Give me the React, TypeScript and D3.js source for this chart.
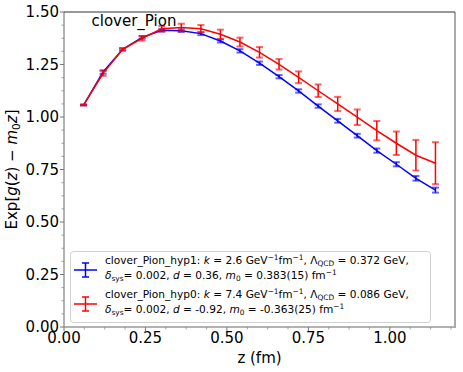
import React from "react";
import * as d3 from "d3";

const zValues = [0.06, 0.12, 0.18, 0.24, 0.30, 0.36, 0.42, 0.48, 0.54, 0.60, 0.66, 0.72, 0.78, 0.84, 0.90, 0.96, 1.02, 1.08, 1.14];
const hyp1Values = [1.057, 1.214, 1.322, 1.379, 1.413, 1.411, 1.397, 1.362, 1.315, 1.256, 1.192, 1.124, 1.052, 0.982, 0.911, 0.840, 0.775, 0.708, 0.652];
const hyp1Errors = [0.002, 0.008, 0.005, 0.006, 0.006, 0.006, 0.007, 0.007, 0.008, 0.008, 0.008, 0.008, 0.008, 0.009, 0.009, 0.010, 0.010, 0.011, 0.012];
const hyp0Values = [1.057, 1.208, 1.322, 1.375, 1.420, 1.426, 1.420, 1.394, 1.357, 1.308, 1.251, 1.189, 1.125, 1.062, 0.999, 0.935, 0.875, 0.818, 0.780];
const hyp0Errors = [0.002, 0.012, 0.006, 0.011, 0.013, 0.018, 0.018, 0.022, 0.021, 0.025, 0.025, 0.028, 0.030, 0.034, 0.037, 0.046, 0.056, 0.073, 0.100];
const xTicks = [0, 0.25, 0.5, 0.75, 1.0];
const yTicks = [0, 0.25, 0.5, 0.75, 1.0, 1.25, 1.5];

const W = 463, H = 372;
const M = { left: 64, right: 455, top: 12, bottom: 327 };
const FONT = "DejaVu Sans, sans-serif";

export default function App() {
  const x = d3.scaleLinear().domain([0, 1.2]).range([M.left, M.right]);
  const y = d3.scaleLinear().domain([0, 1.5]).range([M.bottom, M.top]);
  const line = d3.line<number>().x((_, i) => x(zValues[i])).y((v) => y(v));
  const minorX = d3.range(0, 1.2001, 0.0625).filter((v) => Math.abs((v / 0.25) - Math.round(v / 0.25)) > 1e-6);
  const minorY = d3.range(0, 1.5001, 0.0625).filter((v) => Math.abs((v / 0.25) - Math.round(v / 0.25)) > 1e-6);

  const series = [
    { vals: hyp1Values, errs: hyp1Errors, color: "#0000ff" },
    { vals: hyp0Values, errs: hyp0Errors, color: "#ff0000" },
  ];

  const sup = (t: string) => <tspan baselineShift="4px" fontSize="7.4px">{t}</tspan>;
  const sub = (t: string) => <tspan baselineShift="-2px" fontSize="7.4px">{t}</tspan>;
  const subBig = (t: string) => <tspan baselineShift="-3px" fontSize="10.5px">{t}</tspan>;
  const it = (t: string) => <tspan fontStyle="italic">{t}</tspan>;

  const legendHandle = (cy: number, color: string) => (
    <g>
      <line x1={74} x2={97} y1={cy} y2={cy} stroke={color} strokeWidth={1.5} />
      <line x1={85.5} x2={85.5} y1={cy - 7} y2={cy + 7} stroke={color} strokeWidth={1.5} />
      <line x1={82} x2={89} y1={cy - 7} y2={cy - 7} stroke={color} strokeWidth={1.5} />
      <line x1={82} x2={89} y1={cy + 7} y2={cy + 7} stroke={color} strokeWidth={1.5} />
    </g>
  );

  return (
    <svg width={W} height={H} style={{ position: "absolute", left: 0, top: 0, background: "#fff" }} fontFamily={FONT}>
      <rect x={0} y={0} width={W} height={H} fill="#fff" />
      {/* data */}
      {series.map((s, si) => (
        <g key={si}>
          <path d={line(s.vals) || ""} fill="none" stroke={s.color} strokeWidth={1.5} />
          {s.vals.map((v, i) => {
            const cx = x(zValues[i]);
            const y1 = y(v + s.errs[i]);
            const y2 = y(v - s.errs[i]);
            return (
              <g key={i}>
                <line x1={cx} x2={cx} y1={y1} y2={y2} stroke={s.color} strokeWidth={1.5} />
                <line x1={cx - 3.5} x2={cx + 3.5} y1={y1} y2={y1} stroke={s.color} strokeWidth={2} strokeOpacity={0.6} />
                <line x1={cx - 3.5} x2={cx + 3.5} y1={y2} y2={y2} stroke={s.color} strokeWidth={2} strokeOpacity={0.6} />
              </g>
            );
          })}
        </g>
      ))}
      {/* spines */}
      <line x1={M.left} x2={M.left} y1={M.top} y2={M.bottom} stroke="#999" strokeWidth={1.5} />
      <line x1={M.left} x2={M.right} y1={M.bottom} y2={M.bottom} stroke="#999" strokeWidth={1.5} />
      <line x1={M.right} x2={M.right} y1={M.top} y2={M.bottom + 1} stroke="#aaa" strokeWidth={2} />
      <line x1={M.left} x2={M.right} y1={M.top} y2={M.top} stroke="#333" strokeWidth={1.2} />
      {/* ticks */}
      {xTicks.map((t) => (
        <g key={"xt" + t}>
          <line x1={x(t)} x2={x(t)} y1={M.bottom} y2={M.bottom + 4} stroke="#777" strokeWidth={1} />
          <text x={x(t)} y={M.bottom + 16} fontSize={15} textAnchor="middle">{t.toFixed(2)}</text>
        </g>
      ))}
      {minorX.map((t) => (
        <line key={"xm" + t} x1={x(t)} x2={x(t)} y1={M.bottom} y2={M.bottom + 2.5} stroke="#888" strokeWidth={0.8} />
      ))}
      {yTicks.map((t) => (
        <g key={"yt" + t}>
          <line x1={M.left - 4} x2={M.left} y1={y(t)} y2={y(t)} stroke="#777" strokeWidth={1} />
          <text x={M.left - 5} y={y(t)} dy="0.36em" fontSize={15} textAnchor="end">{t.toFixed(2)}</text>
        </g>
      ))}
      {minorY.map((t) => (
        <line key={"ym" + t} x1={M.left - 2.5} x2={M.left} y1={y(t)} y2={y(t)} stroke="#888" strokeWidth={0.8} />
      ))}
      {/* axis labels */}
      <text x={(M.left + M.right) / 2} y={363} fontSize={15} textAnchor="middle">z (fm)</text>
      <text transform={`translate(17, ${(M.top + M.bottom) / 2}) rotate(-90)`} fontSize={15} textAnchor="middle">
        Exp[{it("g")}({it("z")}) − {it("m")}{subBig("0")}{it("z")}]
      </text>
      {/* title */}
      <text x={91.5} y={26} fontSize={15}>clover_Pion</text>
      {/* legend */}
      <rect x={70.5} y={251.5} width={360} height={71} rx={3} fill="#fff" fillOpacity={0.8} stroke="#d0d0d0" strokeWidth={1} />
      {legendHandle(270, "#0000ff")}
      {legendHandle(304, "#ff0000")}
      <g fontSize={10.6}>
        <text x={105} y={263.5}>
          clover_Pion_hyp1: {it("k")} = 2.6 GeV{sup("−1")}fm{sup("−1")}, Λ{sub("QCD")} = 0.372 GeV,
        </text>
        <text x={105} y={278.5}>
          {it("δ")}{sub("sys")}= 0.002, {it("d")} = 0.36, {it("m")}{sub("0")} = 0.383(15) fm{sup("−1")}
        </text>
        <text x={105} y={297.5}>
          clover_Pion_hyp0: {it("k")} = 7.4 GeV{sup("−1")}fm{sup("−1")}, Λ{sub("QCD")} = 0.086 GeV,
        </text>
        <text x={105} y={312.5}>
          {it("δ")}{sub("sys")}= 0.002, {it("d")} = -0.92, {it("m")}{sub("0")} = -0.363(25) fm{sup("−1")}
        </text>
      </g>
    </svg>
  );
}
